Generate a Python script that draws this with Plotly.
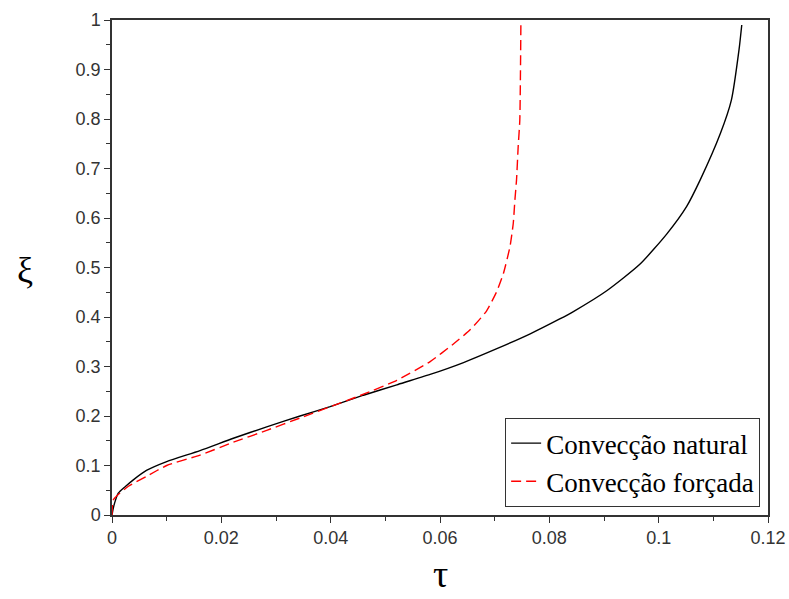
import plotly.graph_objects as go

# Convecção natural (black, solid)
tau_natural = [0, 0.0002, 0.0005, 0.00115, 0.0025, 0.0039, 0.0063, 0.01, 0.0161, 0.0222,
               0.0283, 0.0344, 0.0399, 0.046, 0.0521, 0.0582, 0.0643, 0.0704, 0.0765,
               0.0819, 0.0844, 0.0905, 0.0966, 0.1015, 0.1051, 0.1076, 0.1113, 0.1133,
               0.1147, 0.1152]
xi_natural = [0, 0.012, 0.025, 0.044, 0.058, 0.071, 0.09, 0.108, 0.13, 0.155,
              0.178, 0.2, 0.219, 0.242, 0.263, 0.284, 0.308, 0.336, 0.366,
              0.396, 0.411, 0.453, 0.507, 0.568, 0.623, 0.677, 0.771, 0.838,
              0.94, 0.99]

# Convecção forçada (red, dashed)
tau_forced = [0, 0.0002, 0.001, 0.003, 0.0063, 0.01, 0.0161, 0.0222, 0.0283, 0.0344,
              0.0417, 0.046, 0.0521, 0.0582, 0.0624, 0.0655, 0.0685, 0.0704, 0.0716,
              0.0728, 0.0734, 0.0737, 0.074, 0.0743, 0.0746, 0.0748]
xi_forced = [0, 0.03, 0.04, 0.058, 0.078, 0.1, 0.121, 0.147, 0.171, 0.196,
             0.226, 0.244, 0.272, 0.31, 0.345, 0.374, 0.412, 0.452, 0.488,
             0.542, 0.589, 0.636, 0.677, 0.744, 0.798, 1.0]

x_ticks = [0, 0.02, 0.04, 0.06, 0.08, 0.1, 0.12]
y_ticks = [0, 0.1, 0.2, 0.3, 0.4, 0.5, 0.6, 0.7, 0.8, 0.9, 1]

fig = go.Figure()
fig.add_trace(go.Scatter(x=tau_natural, y=xi_natural, mode="lines",
                         name="Convecção natural",
                         line=dict(color="black", width=1.4, shape="spline", smoothing=0.6)))
fig.add_trace(go.Scatter(x=tau_forced, y=xi_forced, mode="lines",
                         name="Convecção forçada",
                         line=dict(color="#ff0000", width=1.4, dash="10px,5px",
                                   shape="spline", smoothing=0.5)))

axis_common = dict(
    showgrid=False, zeroline=False, showline=True, linecolor="#333333", linewidth=1.5,
    mirror=True, ticks="outside", ticklen=6, tickwidth=1.2, tickcolor="#333333",
    automargin=False,
    tickfont=dict(family="Liberation Sans, Arial", size=18, color="#333333"),
)

fig.update_xaxes(range=[0, 0.12], tickvals=x_ticks,
                 minor=dict(ticks="outside", ticklen=4, dtick=0.01, tickcolor="#333333", tickwidth=1.2),
                 **axis_common)
fig.update_yaxes(range=[0, 1], tickvals=y_ticks,
                 minor=dict(ticks="outside", ticklen=4, dtick=0.05, tickcolor="#333333", tickwidth=1.2),
                 **axis_common)

fig.add_annotation(text="ξ", xref="paper", yref="paper", x=-0.133, y=0.495,
                   showarrow=False, xanchor="center", yanchor="middle",
                   font=dict(family="Liberation Serif, Times New Roman", size=36, color="black"))
fig.add_annotation(text="τ", xref="paper", yref="paper", x=0.5, y=-0.072,
                   showarrow=False, xanchor="center", yanchor="top",
                   font=dict(family="Liberation Serif, Times New Roman", size=38, color="black"))

fig.update_layout(
    width=789, height=599,
    margin=dict(l=112, r=21, t=20, b=84, autoexpand=False),
    paper_bgcolor="white", plot_bgcolor="white",
    legend=dict(x=0.988, y=0.016, xanchor="right", yanchor="bottom",
                bgcolor="white", bordercolor="#333333", borderwidth=1,
                font=dict(family="Liberation Serif, Times New Roman", size=27, color="black"),
                itemwidth=30, tracegroupgap=0),
    showlegend=True,
)

fig.write_html("out.html")
